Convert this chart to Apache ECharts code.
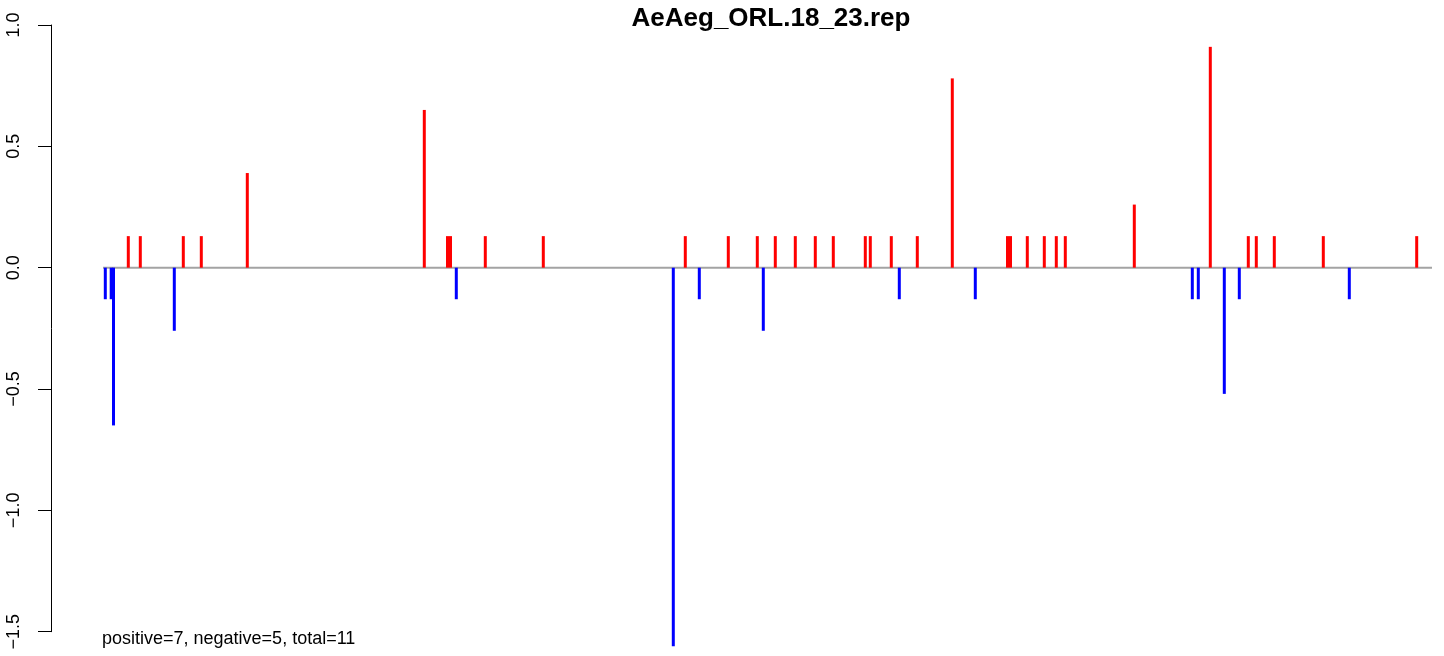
<!DOCTYPE html>
<html>
<head>
<meta charset="utf-8">
<script src="https://cdn.jsdelivr.net/npm/echarts@6/dist/echarts.min.js"></script>
<style>
html,body{margin:0;padding:0;background:#fff;}
#chart{width:1444px;height:656px;}
</style>
</head>
<body>
<div id="chart"></div>
<script>
// Title and annotation
const chartTitle = 'AeAeg_ORL.18_23.rep';
const summaryText = 'positive=7, negative=5, total=11';

// Y tick values and labels
const yTickValues = [-1.5, -1.0, -0.5, 0.0, 0.5, 1.0];
const yTickLabels = ['\u22121.5', '\u22121.0', '\u22120.5', '0.0', '0.5', '1.0'];

// Positive (red) bars: position along the region and value
const posPositions = [77.3, 89.3, 132.3, 150.3, 196.3, 373.3, 396.5, 399.5, 434.3, 492.3,
  634.3, 677.3, 706.3, 724.3, 744.3, 764.3, 782.3, 814.3, 819.3, 840.3, 866.3, 901.3,
  956.5, 959.5, 976.3, 993.3, 1005.3, 1014.3, 1083.3, 1159.3, 1197.3, 1205.3, 1223.3, 1272.3, 1365.7];
const posValues = [0.13, 0.13, 0.13, 0.13, 0.39, 0.65, 0.13, 0.13, 0.13, 0.13,
  0.13, 0.13, 0.13, 0.13, 0.13, 0.13, 0.13, 0.13, 0.13, 0.13, 0.13, 0.78,
  0.13, 0.13, 0.13, 0.13, 0.13, 0.13, 0.26, 0.91, 0.13, 0.13, 0.13, 0.13, 0.13];

// Negative (blue) bars
const negPositions = [54.3, 60.2, 62.5, 123.3, 405.3, 622.3, 648.3, 712.3, 848.3, 924.3,
  1141.3, 1147.3, 1173.3, 1188.3, 1298.3];
const negValues = [-0.13, -0.13, -0.65, -0.26, -0.13, -1.56, -0.13, -0.26, -0.13, -0.13,
  -0.13, -0.13, -0.52, -0.13, -0.13];

// Extent of the zero reference line
const zeroLineExtent = [52, 1381];
const xRange = [0, 1393];

const FONT = '"Liberation Sans", Arial, Helvetica, sans-serif';

function barRenderer(color) {
  return function (params, api) {
    const x = api.value(0), v = api.value(1);
    const p0 = api.coord([x, 0]);
    const p1 = api.coord([x, v]);
    return {
      type: 'rect',
      shape: { x: p0[0] - 1.5, y: Math.min(p0[1], p1[1]), width: 3, height: Math.abs(p1[1] - p0[1]) },
      style: { fill: color }
    };
  };
}

const chart = echarts.init(document.getElementById('chart'), null, { renderer: 'canvas' });
chart.setOption({
  animation: false,
  backgroundColor: '#ffffff',
  title: {
    text: chartTitle,
    left: 766, top: 1,
    textAlign: 'center',
    textStyle: { fontFamily: FONT, fontSize: 26, fontWeight: 'bold', color: '#000' }
  },
  grid: { left: 51, right: 0, top: 25, bottom: 24.3, containLabel: false },
  xAxis: {
    type: 'value', min: xRange[0], max: xRange[1], show: false
  },
  yAxis: {
    type: 'value', min: -1.5, max: 1.0, interval: 0.5,
    axisLine: { show: true, onZero: false, lineStyle: { color: '#000', width: 1 } },
    axisTick: { show: true, inside: false, length: 13, lineStyle: { color: '#000', width: 1 } },
    splitLine: { show: false },
    axisLabel: {
      rotate: 90,
      margin: 28,
      align: 'center',
      verticalAlign: 'bottom',
      fontFamily: FONT, fontSize: 18, color: '#000',
      formatter: function (val) {
        const i = yTickValues.findIndex(t => Math.abs(t - val) < 1e-9);
        return i >= 0 ? yTickLabels[i] : '';
      }
    }
  },
  series: [
    {
      type: 'line',
      data: zeroLineExtent.map(x => [x, 0]),
      symbol: 'none',
      lineStyle: { color: '#a3a3a3', width: 2 },
      z: 1,
      silent: true
    },
    {
      type: 'custom',
      data: posPositions.map((x, i) => [x, posValues[i]]),
      renderItem: barRenderer('#ff0000'),
      z: 2
    },
    {
      type: 'custom',
      data: negPositions.map((x, i) => [x, negValues[i]]),
      renderItem: barRenderer('#0000ff'),
      z: 2
    }
  ],
  graphic: [
    {
      type: 'text',
      left: 102, top: 630,
      style: { text: summaryText, font: '18px ' + FONT, fill: '#000' }
    }
  ]
});
</script>
</body>
</html>
